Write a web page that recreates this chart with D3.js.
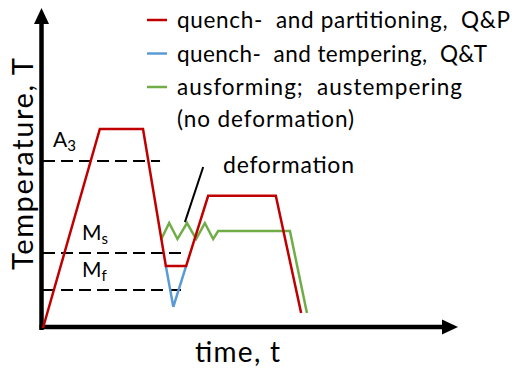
<!DOCTYPE html>
<html><head><meta charset="utf-8">
<script src="https://cdn.jsdelivr.net/npm/d3@7"></script>
<style>
html,body{margin:0;padding:0;background:#fff;}
text{font-family:Lato,"Open Sans",sans-serif;fill:#000;white-space:pre;}
</style></head>
<body><svg id="c" width="512" height="374"></svg>
<script>
// time / temperature in arbitrary units (0..100)
const qpTime = [0, 13.7, 24.1, 29.6, 34.5, 39.8, 56.1, 62.2];
const qpTemp = [0, 62.2, 62.2, 19.4, 19.4, 41.3, 41.3, 4.7];
const qtTime = [29.6, 31.4, 34.5];
const qtTemp = [19.4, 6.6, 19.4];
const afTime = [28.4, 30.4, 32.4, 34.7, 36.9, 39.0, 41.0, 42.2, 59.5, 63.6];
const afTemp = [27.5, 32.8, 27.8, 32.8, 27.8, 32.8, 27.8, 30.3, 30.3, 4.7];
const refNames = ["A3", "Ms", "Mf"];
const refTemp = [52.2, 23.4, 11.9];
const refEnd = [28.2, 34.2, 34.2];
const annotTime = [34.2, 38.6];
const annotTemp = [33.1, 50.3];
const legendLabels = ["quench-  and partitioning,  Q&P", "quench-  and tempering,  Q&T", "ausforming;  austempering", "(no deformation)"];
const legendWidths = [333, 310, 285, 177];
const legendColors = ["#C00000", "#5B9BD5", "#70AD47"];

const svg = d3.select("#c");
const x = d3.scaleLinear().domain([0, 100]).range([43, 458]);
const y = d3.scaleLinear().domain([0, 100]).range([328, 8]);
const line = d3.line().x(d => x(d[0])).y(d => y(d[1]));
const zip = (a, b) => a.map((v, i) => [v, b[i]]);

// dashed reference lines
refTemp.forEach((t, i) => {
  svg.append("line").attr("x1", x(0)).attr("x2", x(refEnd[i]))
    .attr("y1", y(t)).attr("y2", y(t))
    .attr("stroke", "#000").attr("stroke-width", 2).attr("stroke-dasharray", "12,6");
});

// axes
svg.append("line").attr("x1", 41.5).attr("x2", 41.5).attr("y1", y(0) + 2).attr("y2", y(100) + 14)
  .attr("stroke", "#000").attr("stroke-width", 4.5);
svg.append("path").attr("d", `M34,${y(100)+16} L41.5,${y(100)} L49,${y(100)+16} Z`).attr("fill", "#000");
svg.append("line").attr("x1", 39.5).attr("x2", x(100) - 14).attr("y1", 327).attr("y2", 327)
  .attr("stroke", "#000").attr("stroke-width", 4.5);
svg.append("path").attr("d", `M${x(100)-16},319.5 L${x(100)},327 L${x(100)-16},334.5 Z`).attr("fill", "#000");

// series
svg.append("path").attr("d", line(zip(qtTime, qtTemp))).attr("fill", "none")
  .attr("stroke", legendColors[1]).attr("stroke-width", 2.5);
svg.append("path").attr("d", line(zip(afTime, afTemp))).attr("fill", "none")
  .attr("stroke", legendColors[2]).attr("stroke-width", 2.5);
svg.append("path").attr("d", line(zip(qpTime, qpTemp))).attr("fill", "none")
  .attr("stroke", legendColors[0]).attr("stroke-width", 2.5);

// annotation
svg.append("path").attr("d", line(zip(annotTime, annotTemp))).attr("stroke", "#000").attr("stroke-width", 2);
svg.append("text").attr("x", 223).attr("y", 173).attr("font-size", 23)
  .attr("textLength", 131).attr("lengthAdjust", "spacing").text("deformation");

// reference labels
const lblPos = [[53, 147], [82, 240], [82, 277]];
refNames.forEach((n, i) => {
  const t = svg.append("text").attr("x", lblPos[i][0]).attr("y", lblPos[i][1]).attr("font-size", 21);
  t.append("tspan").text(n[0]);
  t.append("tspan").attr("font-size", 15).attr("dy", 4).text(n.slice(1));
});

// axis titles
svg.append("text").attr("transform", "translate(33,164) rotate(-90)").attr("text-anchor", "middle")
  .attr("font-size", 29).attr("textLength", 212).attr("lengthAdjust", "spacing").text("Temperature, T");
svg.append("text").attr("x", 237.5).attr("y", 362).attr("text-anchor", "middle")
  .attr("font-size", 28).attr("textLength", 85).attr("lengthAdjust", "spacing").text("time, t");

// legend
legendLabels.forEach((l, i) => {
  const yy = 20 + i * 33.5;
  if (i < legendColors.length) {
    svg.append("line").attr("x1", 147).attr("x2", 167).attr("y1", yy).attr("y2", yy)
      .attr("stroke", legendColors[i]).attr("stroke-width", 2.5);
  }
  svg.append("text").attr("x", 177).attr("y", i < 3 ? yy + 8 : 127).attr("font-size", 22.5)
    .attr("textLength", legendWidths[i]).attr("lengthAdjust", "spacing").text(l);
});
</script></body></html>
